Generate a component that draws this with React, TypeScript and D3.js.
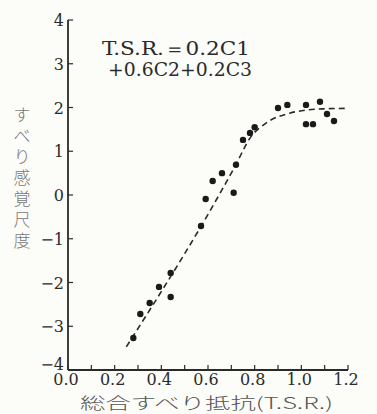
import React, { useRef, useEffect } from "react";
import * as d3 from "d3";

// measured points (T.S.R. vs slipperiness sensation scale)
const tsr = [0.28, 0.31, 0.35, 0.39, 0.44, 0.44, 0.57, 0.59, 0.62, 0.66, 0.71, 0.72, 0.75, 0.78, 0.8, 0.9, 0.94, 1.02, 1.02, 1.05, 1.08, 1.11, 1.14];
const sensation = [-3.27, -2.72, -2.47, -2.1, -1.78, -2.33, -0.71, -0.09, 0.32, 0.5, 0.05, 0.69, 1.26, 1.42, 1.55, 1.99, 2.06, 2.06, 1.62, 1.62, 2.13, 1.85, 1.69];

// fitted dashed curve
const fitX = [0.25, 0.72, 0.78, 0.85, 0.95, 1.02, 1.1, 1.19];
const fitY = [-3.47, 0.7, 1.3, 1.65, 1.87, 1.94, 1.97, 1.98];

const xTicks = [0, 0.2, 0.4, 0.6, 0.8, 1.0, 1.2];
const xTickLabels = ["0.0", "0.2", "0.4", "0.6", "0.8", "1.0", "1.2"];
const yTicks = [-4, -3, -2, -1, 0, 1, 2, 3, 4];
const yTickLabels = ["−4", "−3", "−2", "−1", "0", "1", "2", "3", "4"];

const W = 377;
const H = 414;
const ink = "#2a2a2a";

function Chart() {
  const svgRef = useRef<SVGSVGElement>(null);

  useEffect(() => {
    const svg = d3.select(svgRef.current);
    svg.selectAll("*").remove();

    const x = d3.scaleLinear().domain([0, 1.2]).range([68, 348]);
    const y = d3.scaleLinear().domain([-4, 4]).range([370, 20]);

    svg.append("rect").attr("width", W).attr("height", H).attr("fill", "#fcfcf8");

    const serif = "DejaVu Serif";

    // axes lines
    svg.append("line").attr("x1", x(0)).attr("x2", x(0)).attr("y1", y(4)).attr("y2", y(-4))
      .attr("stroke", ink).attr("stroke-width", 1.8);
    svg.append("line").attr("x1", x(0)).attr("x2", x(1.2)).attr("y1", y(-4)).attr("y2", y(-4))
      .attr("stroke", ink).attr("stroke-width", 1.8);

    // y ticks (inward) + labels
    yTicks.forEach((t, i) => {
      svg.append("line").attr("x1", x(0)).attr("x2", x(0) + 5).attr("y1", y(t)).attr("y2", y(t))
        .attr("stroke", ink).attr("stroke-width", 1.2);
      svg.append("text").attr("x", 64).attr("y", y(t) + (t === -4 ? 0 : 6))
        .attr("text-anchor", "end").attr("font-family", serif).attr("font-size", 16)
        .attr("fill", ink).text(yTickLabels[i]);
    });

    // x ticks every 0.1 (upward)
    d3.range(0, 13).map((k) => k / 10).forEach((t) => {
      svg.append("line").attr("x1", x(t)).attr("x2", x(t)).attr("y1", y(-4)).attr("y2", y(-4) - 5)
        .attr("stroke", ink).attr("stroke-width", 1.2);
    });
    xTicks.forEach((t, i) => {
      svg.append("text").attr("x", x(t) - 2).attr("y", 385).attr("text-anchor", "middle")
        .attr("font-family", serif).attr("font-size", 16)
        .attr("fill", ink).text(xTickLabels[i]);
    });

    // axis titles
    svg.append("text").attr("x", 80).attr("y", 409).attr("textLength", 253).attr("lengthAdjust", "spacingAndGlyphs")
      .attr("font-family", "Noto Sans CJK JP").attr("font-size", 16).attr("font-weight", 300)
      .attr("fill", "#555").text("総合すべり抵抗(T.S.R.)");

    svg.append("text").attr("x", 22).attr("y", 106)
      .style("writing-mode", "vertical-rl").attr("letter-spacing", 4)
      .attr("font-family", "Noto Sans CJK JP").attr("font-size", 17).attr("font-weight", 300)
      .attr("fill", "#777").text("すべり感覚尺度");

    // formula annotation
    svg.append("text").attr("x", 102).attr("y", 55).attr("textLength", 148).attr("lengthAdjust", "spacingAndGlyphs")
      .attr("font-family", serif).attr("font-size", 18).attr("fill", ink).text("T.S.R.＝0.2C1");
    svg.append("text").attr("x", 108).attr("y", 76).attr("textLength", 144).attr("lengthAdjust", "spacingAndGlyphs")
      .attr("font-family", serif).attr("font-size", 18).attr("fill", ink).text("+0.6C2+0.2C3");

    // dashed fit curve
    const line = d3.line<number>()
      .x((d, i) => x(fitX[i]))
      .y((d) => y(d))
      .curve(d3.curveMonotoneX);
    svg.append("path").attr("d", line(fitY)).attr("fill", "none").attr("stroke", ink)
      .attr("stroke-width", 1.6).attr("stroke-dasharray", "6,4");

    // points
    svg.selectAll("circle.pt").data(tsr).enter().append("circle")
      .attr("class", "pt")
      .attr("cx", (d) => x(d))
      .attr("cy", (d, i) => y(sensation[i]))
      .attr("r", 3.2)
      .attr("fill", "#1a1a1a");
  }, []);

  return <svg ref={svgRef} width={W} height={H} style={{ position: "fixed", left: 0, top: 0 }} />;
}

export default function App() {
  return <Chart />;
}
